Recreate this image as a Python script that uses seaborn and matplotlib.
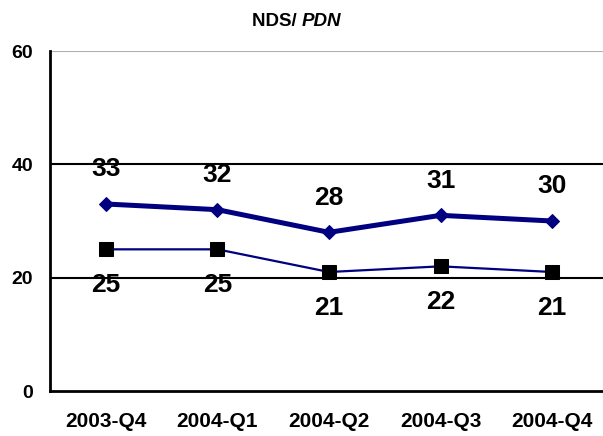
import matplotlib
matplotlib.use("Agg")
import matplotlib.pyplot as plt
import seaborn as sns
import pandas as pd
from matplotlib.ticker import FixedLocator

quarters = ["2003-Q4", "2004-Q1", "2004-Q2", "2004-Q3", "2004-Q4"]
nds_values = [33, 32, 28, 31, 30]
pdn_values = [25, 25, 21, 22, 21]
y_ticks = [0, 20, 40, 60]

sns.set_style("white")
plt.rcParams["font.family"] = ["Liberation Sans", "DejaVu Sans"]
plt.rcParams["text.color"] = "black"
plt.rcParams["xtick.color"] = "black"
plt.rcParams["ytick.color"] = "black"
plt.rcParams["axes.labelcolor"] = "black"

df = pd.DataFrame({"quarter": quarters, "nds": nds_values, "pdn": pdn_values})

fig = plt.figure(figsize=(6.03, 4.36), dpi=100)
ax = fig.add_axes([50 / 603, 45 / 436, 558 / 603, 340 / 436])

navy = "#000080"
sns.lineplot(data=df, x="quarter", y="nds", ax=ax, color=navy, linewidth=3.6,
             marker="D", markersize=7, markeredgecolor=navy, markerfacecolor=navy,
             sort=False, zorder=4)
sns.lineplot(data=df, x="quarter", y="pdn", ax=ax, color=navy, linewidth=1.6,
             marker="s", markersize=10, markeredgecolor="black", markerfacecolor="black",
             sort=False, zorder=4)

n = len(quarters)
ax.set_xlim(-0.5, n - 0.5)
ax.set_ylim(0, 60)
ax.set_yticks(y_ticks)
ax.set_yticklabels([str(v) for v in y_ticks], fontsize=14, fontweight="bold", color="black")
ax.set_xticks(range(n))
ax.set_xticklabels(quarters, fontsize=15, fontweight="bold", color="black")
ax.xaxis.set_minor_locator(FixedLocator([i - 0.5 for i in range(n + 1)]))
ax.tick_params(axis="x", which="major", length=0, pad=15)
ax.tick_params(axis="x", which="minor", length=5, width=1.5, color="black", direction="out")
ax.tick_params(axis="y", which="major", length=5, width=1.5, color="black", direction="out", pad=7)
ax.set_xlabel("")
ax.set_ylabel("")

# gridlines
for v in [20, 40]:
    ax.axhline(v, color="black", linewidth=1.5, zorder=1)
ax.axhline(60, color="#b0b0b0", linewidth=0.8, zorder=1)

for s in ["top", "right"]:
    ax.spines[s].set_visible(False)
for s in ["left", "bottom"]:
    ax.spines[s].set_color("black")
    ax.spines[s].set_linewidth(2)
    ax.spines[s].set_zorder(5)

for i, v in enumerate(nds_values):
    ax.annotate(str(v), (i, v), xytext=(0, 25), textcoords="offset points",
                ha="center", va="center", fontsize=19, fontweight="bold", color="black")
for i, v in enumerate(pdn_values):
    ax.annotate(str(v), (i, v), xytext=(0, -26), textcoords="offset points",
                ha="center", va="center", fontsize=19, fontweight="bold", color="black")

fig.text(0.5, 1 - 21 / 436, "NDS/ ", ha="right", va="center", fontsize=13.5,
         fontweight="bold", color="black")
fig.text(0.5, 1 - 21 / 436, "PDN", ha="left", va="center", fontsize=13.5,
         fontweight="bold", style="italic", color="black")

fig.savefig("out.png", dpi=100)
